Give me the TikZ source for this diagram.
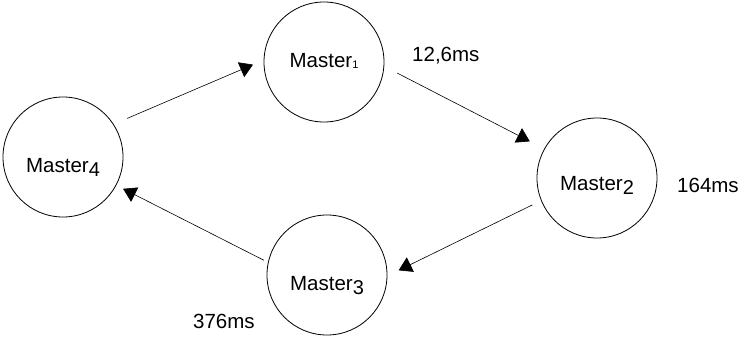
\documentclass[tikz,border=0pt]{standalone}
\usepackage{fontspec}
\setmainfont{Liberation Sans}
\usetikzlibrary{arrows.meta}

\newcommand{\msub}[1]{\raisebox{-4pt}{\fontsize{20}{20}\selectfont #1}}

\begin{document}
\begin{tikzpicture}[x=1pt, y=-1pt,
          master/.style={circle, draw, line width=0.8pt, minimum size=120pt,
                         inner sep=0pt, outer sep=0pt,
                         font=\fontsize{20.5}{20.5}\selectfont, text depth=0pt},
          lat/.style={font=\fontsize{20.5}{20.5}\selectfont, inner sep=0pt, anchor=base west},
          arr/.style={-{Triangle[length=13pt, width=16pt]}, line width=0.6pt}
        ]
        \useasboundingbox (0,0) rectangle (747,337);

        % Masters
        \node[master, text height=12pt] (m1) at (324, 62)
              {Master\raisebox{-1pt}{\fontsize{11}{11}\selectfont 1}};
        \node[master, text height=24pt] (m2) at (597,178) {Master\msub{2}};
        \node[master, text height=30pt] (m3) at (327,275) {Master\msub{3}};
        \node[master, text height=30pt] (m4) at (63, 157) {Master\msub{4}};

        % Latencies
        \node[lat] (t12)  at (412, 62) {12,6ms};
        \node[lat] (t164) at (677,192) {164ms};
        \node[lat] (t376) at (193,328) {376ms};

        \draw[arr, shorten <=15pt, shorten >=12pt]   (m4.33)    -- (m1.178);
        \draw[arr, shorten <=15pt, shorten >=16.5pt] (m1.-4)    -- (m2.151);
        \draw[arr, shorten <=10pt, shorten >=13pt]   (m2.202.6) -- (m3.-1.6);
        \draw[arr, shorten <=5pt,  shorten >=8pt]    (m3.168.5) -- (m4.-28);
      \end{tikzpicture}
\end{document}
